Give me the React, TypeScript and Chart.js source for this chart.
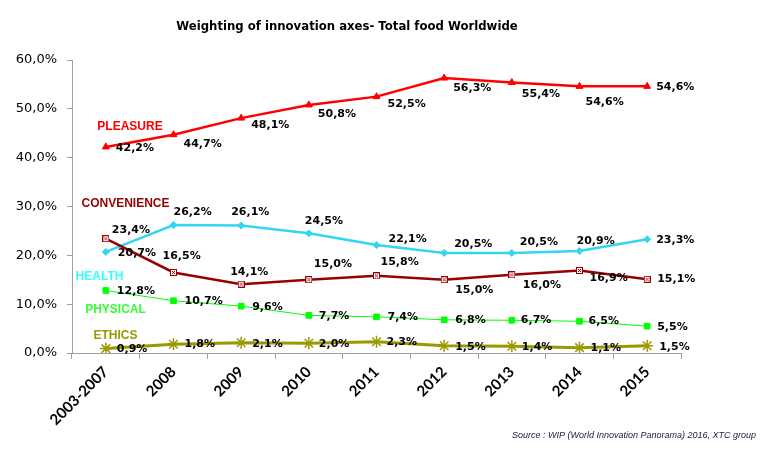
import React, { useEffect, useRef } from 'react';
import { Chart, registerables } from 'chart.js';
Chart.register(...registerables);

const categories = ['2003-2007', '2008', '2009', '2010', '2011', '2012', '2013', '2014', '2015'];
const pleasure = [42.2, 44.7, 48.1, 50.8, 52.5, 56.3, 55.4, 54.6, 54.6];
const convenience = [23.4, 16.5, 14.1, 15.0, 15.8, 15.0, 16.0, 16.9, 15.1];
const health = [20.7, 26.2, 26.1, 24.5, 22.1, 20.5, 20.5, 20.9, 23.3];
const physical = [12.8, 10.7, 9.6, 7.7, 7.4, 6.8, 6.7, 6.5, 5.5];
const ethics = [0.9, 1.8, 2.1, 2.0, 2.3, 1.5, 1.4, 1.1, 1.5];
const seriesNames = ['PLEASURE', 'CONVENIENCE', 'HEALTH', 'PHYSICAL', 'ETHICS'];
const yTicks = [0, 10, 20, 30, 40, 50, 60];
const titleText = 'Weighting of innovation axes- Total food Worldwide';
const sourceText = 'Source : WIP (World Innovation Panorama) 2016, XTC group';

// layout / style (not data)
const lineColors = ['#FF0000', '#990000', '#33D6F0', '#00FF00', '#999900'];
const nameColors = ['#FF0000', '#990000', '#33FFFF', '#33FF33', '#999900'];
const lineWidths = [2.5, 2.5, 2.5, 1, 3];
const namePos = [[122, 119], [117.5, 196], [91.5, 269], [107.5, 302], [107.5, 328]];
const labelOffsets = [
  [[10, 1], [10, 9], [10, 7], [9, 9], [11, 8], [9, 10], [10, 12], [6, 16], [9, 1]],
  [[6, -9], [-11, -16], [-11, -12], [5, -16], [4, -14], [11, 10], [11, 10], [10, 8], [10, 0]],
  [[12, 1], [0, -13], [-10, -13], [-4, -12], [12, -6], [10, -9], [8, -11], [-3, -10], [9, 1]],
  [[11, 1], [11, 0], [11, 1], [10, 1], [11, 0], [11, 0], [9, 0], [9, 0], [10, 1]],
  [[11, 1], [11, 0], [11, 1], [10, 1], [10, 0], [11, 1], [10, 1], [11, 1], [12, 1]],
];

const fmt = (v: number) => v.toFixed(1).replace('.', ',') + '%';

function makeConvMarker() {
  const c = document.createElement('canvas');
  c.width = 7;
  c.height = 7;
  const ctx = c.getContext('2d')!;
  ctx.fillStyle = '#ffffff';
  ctx.fillRect(0, 0, 7, 7);
  ctx.strokeStyle = '#990000';
  ctx.lineWidth = 1;
  ctx.strokeRect(0.5, 0.5, 6, 6);
  ctx.beginPath();
  ctx.moveTo(2, 2);
  ctx.lineTo(5, 5);
  ctx.moveTo(5, 2);
  ctx.lineTo(2, 5);
  ctx.stroke();
  return c;
}

const textPlugin = {
  id: 'textPlugin',
  afterDatasetsDraw(chart: any) {
    const ctx = chart.ctx;
    ctx.save();
    // title
    ctx.fillStyle = '#000';
    ctx.font = "bold 11.7px 'DejaVu Sans'";
    ctx.textAlign = 'center';
    ctx.textBaseline = 'middle';
    ctx.fillText(titleText, 339, 19);
    // series names
    ctx.font = "bold 12px 'Liberation Sans'";
    seriesNames.forEach((n, i) => {
      ctx.fillStyle = nameColors[i];
      ctx.fillText(n, namePos[i][0], namePos[i][1]);
    });
    // data labels
    ctx.font = "bold 11px 'DejaVu Sans'";
    ctx.textAlign = 'left';
    ctx.fillStyle = '#000';
    chart.data.datasets.forEach((ds: any, di: number) => {
      const meta = chart.getDatasetMeta(di);
      meta.data.forEach((pt: any, i: number) => {
        const o = labelOffsets[di][i];
        ctx.fillText(fmt(ds.data[i]), pt.x + o[0], pt.y + o[1]);
      });
    });
    // source
    ctx.font = "italic 9px 'Liberation Sans'";
    ctx.fillStyle = '#1a1a4a';
    ctx.textAlign = 'right';
    ctx.fillText(sourceText, 748, 427);
    ctx.restore();
  },
};

export default function App() {
  const ref = useRef<HTMLCanvasElement>(null);
  useEffect(() => {
    const convMarker = makeConvMarker();
    const seriesData = [pleasure, convenience, health, physical, ethics];
    const pointStyles: any[] = ['triangle', convMarker, 'rectRot', 'rect', 'star'];
    const radii = [4, 4, 3.5, 4, 6];
    const chart = new Chart(ref.current!, {
      type: 'line',
      data: {
        labels: categories,
        datasets: seriesData.map((d, i) => ({
          label: seriesNames[i],
          data: d,
          borderColor: lineColors[i],
          backgroundColor: lineColors[i],
          borderWidth: lineWidths[i],
          pointStyle: pointStyles[i],
          pointRadius: radii[i],
          pointBorderColor: lineColors[i],
          pointBackgroundColor: lineColors[i],
          pointBorderWidth: i === 4 ? 1.5 : 1,
          tension: 0,
        })),
      },
      options: {
        animation: false,
        responsive: true,
        maintainAspectRatio: false,
        layout: { padding: { top: 52, right: 75, left: 0, bottom: 0 } },
        plugins: { legend: { display: false }, tooltip: { enabled: false }, title: { display: false } },
        scales: {
          x: {
            offset: true,
            grid: { display: true, drawOnChartArea: false, offset: true, tickLength: 6, color: '#A0A0A0' },
            border: { color: '#A0A0A0', width: 1 },
            ticks: {
              autoSkip: false,
              maxRotation: 45,
              minRotation: 45,
              padding: 4,
              color: '#000',
              font: { family: 'Lato', weight: 'bold', size: 15 },
            },
            afterFit: (s: any) => { s.height = 89; },
          },
          y: {
            min: 0,
            max: 60,
            afterBuildTicks: (s: any) => { s.ticks = yTicks.map((v) => ({ value: v })); },
            grid: { display: true, drawOnChartArea: false, tickLength: 5, color: '#A0A0A0' },
            border: { color: '#A0A0A0', width: 1 },
            ticks: {
              padding: 10,
              color: '#000',
              font: { family: 'DejaVu Sans', size: 13 },
              callback: (v: any) => fmt(Number(v)),
            },
            afterFit: (s: any) => { s.width = 64; },
          },
        },
      },
      plugins: [textPlugin],
    });
    return () => chart.destroy();
  }, []);
  return (
    <div style={{ width: 748, height: 434, position: 'relative' }}>
      <canvas ref={ref} />
    </div>
  );
}
